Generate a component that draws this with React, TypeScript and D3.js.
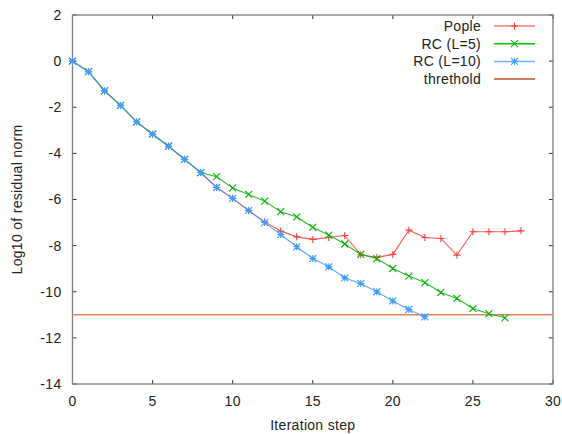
import React, { useEffect, useRef } from "react";
import * as d3 from "d3";

// Log10 of residual norm per iteration step
const popleValues = [
  0, -0.46, -1.29, -1.92, -2.63, -3.17, -3.69, -4.26, -4.83, -5.48, -5.95, -6.49,
  -6.97, -7.37, -7.62, -7.73, -7.65, -7.56, -8.4, -8.51, -8.38, -7.33, -7.65,
  -7.69, -8.41, -7.4, -7.4, -7.4, -7.36,
];
const rc5Values = [
  0, -0.46, -1.29, -1.92, -2.63, -3.17, -3.69, -4.26, -4.83, -5.01, -5.5, -5.78,
  -6.07, -6.53, -6.75, -7.21, -7.54, -7.93, -8.38, -8.56, -8.99, -9.32, -9.6,
  -10.03, -10.29, -10.73, -10.95, -11.13,
];
const rc10Values = [
  0, -0.46, -1.29, -1.92, -2.63, -3.17, -3.69, -4.26, -4.83, -5.48, -5.95, -6.47,
  -7.0, -7.52, -8.05, -8.56, -8.92, -9.4, -9.64, -10.0, -10.4, -10.77, -11.09,
];
const threshold = -11;

const xTicks = [0, 5, 10, 15, 20, 25, 30];
const yTicks = [2, 0, -2, -4, -6, -8, -10, -12, -14];

const seriesNames = ["Pople", "RC (L=5)", "RC (L=10)", "threthold"];

type Pt = { step: number; value: number };
const toPoints = (vals: number[]): Pt[] => vals.map((v, i) => ({ step: i, value: v }));

export default function App() {
  const ref = useRef<SVGSVGElement | null>(null);

  useEffect(() => {
    const svg = d3.select(ref.current);
    svg.selectAll("*").remove();

    const margin = { top: 15, right: 9, bottom: 50, left: 72.5 };
    const W = 562;
    const H = 434;
    const width = W - margin.left - margin.right;
    const height = H - margin.top - margin.bottom;

    const g = svg.append("g").attr("transform", `translate(${margin.left},${margin.top})`);

    const x = d3.scaleLinear().domain([0, 30]).range([0, width]);
    const y = d3.scaleLinear().domain([-14, 2]).range([height, 0]);

    const font = "'Liberation Sans', Arial, sans-serif";
    const fs = 14;
    const ls = "0.3px";

    // ticks on all four sides (mirror), pointing inwards
    const tickLen = 4;
    xTicks.forEach((t) => {
      g.append("line").attr("x1", x(t)).attr("x2", x(t)).attr("y1", height).attr("y2", height - tickLen)
        .attr("stroke", "#333").attr("stroke-width", 1);
      g.append("line").attr("x1", x(t)).attr("x2", x(t)).attr("y1", 0).attr("y2", tickLen)
        .attr("stroke", "#333").attr("stroke-width", 1);
      g.append("text").attr("x", x(t)).attr("y", height + 22).attr("text-anchor", "middle")
        .attr("font-family", font).attr("font-size", fs).attr("letter-spacing", ls)
        .attr("fill", "#222").text(t);
    });
    yTicks.forEach((t) => {
      g.append("line").attr("x1", 0).attr("x2", tickLen).attr("y1", y(t)).attr("y2", y(t))
        .attr("stroke", "#333").attr("stroke-width", 1);
      g.append("line").attr("x1", width).attr("x2", width - tickLen).attr("y1", y(t)).attr("y2", y(t))
        .attr("stroke", "#333").attr("stroke-width", 1);
      g.append("text").attr("x", -11).attr("y", y(t)).attr("dy", "0.35em").attr("text-anchor", "end")
        .attr("font-family", font).attr("font-size", fs).attr("letter-spacing", ls)
        .attr("fill", "#222").text(t);
    });

    // frame
    g.append("rect").attr("x", 0).attr("y", 0).attr("width", width).attr("height", height)
      .attr("fill", "none").attr("stroke", "#7f7f7f").attr("stroke-width", 1.3);

    // axis labels
    g.append("text").attr("x", width / 2).attr("y", height + 46).attr("text-anchor", "middle")
      .attr("font-family", font).attr("font-size", fs).attr("letter-spacing", ls)
      .attr("fill", "#222").text("Iteration step");
    g.append("text").attr("transform", `translate(${-51},${height / 2}) rotate(-90)`)
      .attr("text-anchor", "middle").attr("font-family", font).attr("font-size", fs)
      .attr("letter-spacing", ls).attr("fill", "#222").text("Log10 of residual norm");

    const s = 3.5;
    const plusPath = (cx: number, cy: number) => `M${cx - s},${cy}H${cx + s}M${cx},${cy - s}V${cy + s}`;
    const crossPath = (cx: number, cy: number) =>
      `M${cx - s},${cy - s}L${cx + s},${cy + s}M${cx - s},${cy + s}L${cx + s},${cy - s}`;
    const starPath = (cx: number, cy: number) => plusPath(cx, cy) + crossPath(cx, cy);

    const series = [
      { name: seriesNames[0], data: toPoints(popleValues), color: "#ff3b3b", marker: plusPath },
      { name: seriesNames[1], data: toPoints(rc5Values), color: "#00b400", marker: crossPath },
      { name: seriesNames[2], data: toPoints(rc10Values), color: "#3d9cff", marker: starPath },
    ];

    const line = d3.line<Pt>().x((d) => x(d.step)).y((d) => y(d.value));

    // threshold line
    g.append("line").attr("x1", 0).attr("x2", width).attr("y1", y(threshold)).attr("y2", y(threshold))
      .attr("stroke", "#e0875a").attr("stroke-width", 1.5);

    series.forEach((sr) => {
      g.append("path").datum(sr.data).attr("d", line).attr("fill", "none")
        .attr("stroke", sr.color).attr("stroke-width", 1.1).attr("stroke-opacity", 0.85);
      g.append("path")
        .attr("d", sr.data.map((d) => sr.marker(x(d.step), y(d.value))).join(""))
        .attr("fill", "none").attr("stroke", sr.color).attr("stroke-width", 1.1);
    });

    // legend
    const legendColors = ["#ff7a7a", "#00c000", "#6fb4ff", "#c0502a"];
    const markers = [plusPath, crossPath, starPath, null];
    const legendY0 = 26;
    const legendStep = 17.7;
    seriesNames.forEach((name, i) => {
      const ly = legendY0 + i * legendStep;
      svg.append("text").attr("x", 481).attr("y", ly).attr("dy", "0.35em").attr("text-anchor", "end")
        .attr("font-family", font).attr("font-size", fs).attr("letter-spacing", ls)
        .attr("fill", "#222").text(name);
      svg.append("line").attr("x1", 494).attr("x2", 535).attr("y1", ly).attr("y2", ly)
        .attr("stroke", legendColors[i]).attr("stroke-width", 1.5);
      const m = markers[i];
      if (m) {
        svg.append("path").attr("d", m(514.5, ly)).attr("fill", "none")
          .attr("stroke", series[i].color).attr("stroke-width", 1.1);
      }
    });
  }, []);

  return (
    <svg
      ref={ref}
      width={562}
      height={434}
      style={{ position: "absolute", left: 0, top: 0, background: "#fff" }}
    />
  );
}
